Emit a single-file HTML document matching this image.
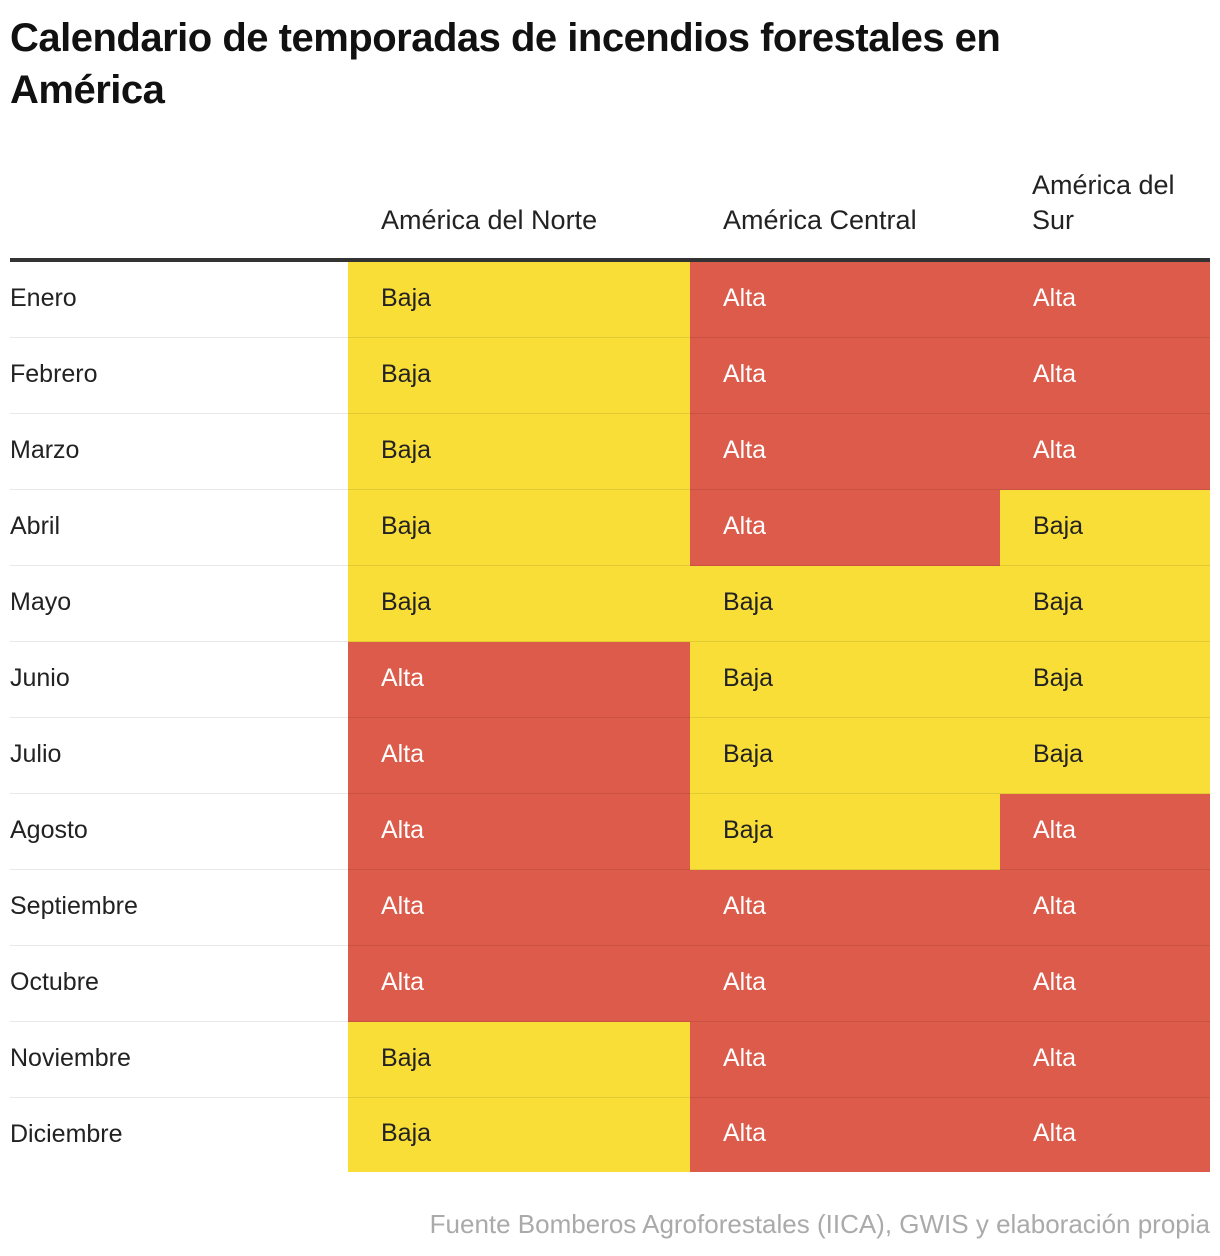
<!DOCTYPE html>
<html><head><meta charset="utf-8">
<style>
body{margin:0;width:1220px;height:1256px;background:#fff;font-family:"Liberation Sans",sans-serif;color:#222;position:relative;overflow:hidden}
h1{position:absolute;left:10px;top:12px;margin:0;font-size:40px;line-height:52px;font-weight:bold;color:#111;letter-spacing:-0.5px;width:1080px}
.hd{position:absolute;font-size:27px;line-height:35px;color:#222}
#rule{position:absolute;left:10px;top:258px;width:1200px;height:4px;background:#333}
.cell{position:absolute;box-sizing:border-box;font-size:25px;display:flex;align-items:center;padding-bottom:4px}
.sep{position:absolute;left:10px;width:1200px;height:1px;background:rgba(0,0,0,0.09)}
#src{position:absolute;right:10px;top:1209px;font-size:26px;color:#aaa}
</style></head><body>
<h1>Calendario de temporadas de incendios forestales en América</h1>
<div class="hd" style="left:381px;top:203px">América del Norte</div>
<div class="hd" style="left:723px;top:203px">América Central</div>
<div class="hd" style="left:1032px;top:168px">América del<br>Sur</div>
<div id="rule"></div>
<div id="grid"></div>
<div id="src">Fuente Bomberos Agroforestales (IICA), GWIS y elaboración propia</div>
<script>
const months=["Enero","Febrero","Marzo","Abril","Mayo","Junio","Julio","Agosto","Septiembre","Octubre","Noviembre","Diciembre"];
const regions=["norte","central","sur"];
const norte=["Baja","Baja","Baja","Baja","Baja","Alta","Alta","Alta","Alta","Alta","Baja","Baja"];
const central=["Alta","Alta","Alta","Alta","Baja","Baja","Baja","Baja","Alta","Alta","Alta","Alta"];
const sur=["Alta","Alta","Alta","Baja","Baja","Baja","Baja","Alta","Alta","Alta","Alta","Alta"];
const series=[norte,central,sur];
const colX=[348,690,1000,1210];
const top0=262,rowH=76;
const g=document.getElementById('grid');
months.forEach((m,i)=>{
  const y=top0+i*rowH;
  const l=document.createElement('div');
  l.className='cell';
  
  
  l.style.cssText=`left:10px;top:${y}px;height:${rowH}px;`;
  l.textContent=m;g.appendChild(l);
  series.forEach((s,j)=>{
    const v=s[i];const c=document.createElement('div');
    c.className='cell';
    
    
    const alta=v==='Alta';
    c.style.cssText=`left:${colX[j]}px;top:${y}px;width:${colX[j+1]-colX[j]}px;height:${rowH-(i==11?2:0)}px;padding-left:33px;background:${alta?'#dd5b4a':'#f9de37'};color:${alta?'#fff':'#222'}`;
    c.textContent=v;g.appendChild(c);
  });
  if(i>0){const s=document.createElement('div');s.className='sep';
  
  
  s.style.top=(y-1)+'px';g.appendChild(s);}
});
</script>
</body></html>
